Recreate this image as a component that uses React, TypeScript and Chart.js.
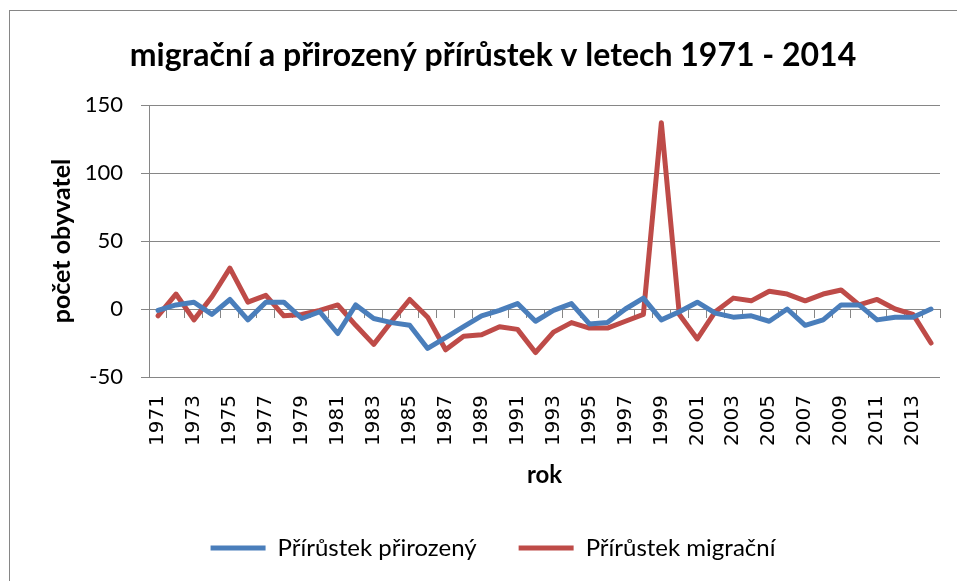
import React, { useEffect, useRef } from "react";
import { Chart, registerables } from "chart.js";

Chart.register(...registerables);

const years: string[] = [
  "1971", "1972", "1973", "1974", "1975", "1976", "1977", "1978", "1979", "1980",
  "1981", "1982", "1983", "1984", "1985", "1986", "1987", "1988", "1989", "1990",
  "1991", "1992", "1993", "1994", "1995", "1996", "1997", "1998", "1999", "2000",
  "2001", "2002", "2003", "2004", "2005", "2006", "2007", "2008", "2009", "2010",
  "2011", "2012", "2013", "2014",
];

const prirozeny: number[] = [
  -1, 3, 5, -4, 7, -8, 5, 5, -7, -2,
  -18, 3, -7, -10, -12, -29, -21, -13, -5, -1,
  4, -9, -1, 4, -11, -10, 0, 8, -8, -2,
  5, -3, -6, -5, -9, 0, -12, -8, 3, 3,
  -8, -6, -6, 0,
];

const migracni: number[] = [
  -5, 11, -8, 9, 30, 5, 10, -5, -4, -1,
  3, -12, -26, -9, 7, -6, -30, -20, -19, -13,
  -15, -32, -17, -10, -14, -14, -9, -4, 137, -4,
  -22, -2, 8, 6, 13, 11, 6, 11, 14, 3,
  7, 0, -4, -25,
];

const seriesNames: string[] = ["Přírůstek přirozený", "Přírůstek migrační"];
const seriesColors: string[] = ["#4A7EBB", "#BE4B48"];
const yTicks: number[] = [-50, 0, 50, 100, 150];

const titleText = "migrační a přirozený přírůstek v letech 1971 - 2014";
const yTitle = "počet obyvatel";
const xTitle = "rok";

const GRID = "#868686";

const framePlugin = {
  id: "frame",
  beforeDraw(chart: any) {
    const ctx = chart.ctx;
    ctx.save();
    ctx.fillStyle = "#ffffff";
    ctx.fillRect(0, 0, chart.width, chart.height);
    ctx.strokeStyle = GRID;
    ctx.lineWidth = 1;
    ctx.strokeRect(9.5, 10.5, 3000, 3000);
    ctx.restore();
  },
};

export default function App() {
  const ref = useRef<HTMLCanvasElement | null>(null);

  useEffect(() => {
    if (!ref.current) return;
    const chart = new Chart(ref.current, {
      type: "line",
      data: {
        labels: years,
        datasets: [
          {
            label: seriesNames[0],
            data: prirozeny,
            borderColor: seriesColors[0],
            backgroundColor: seriesColors[0],
            borderWidth: 5,
            pointRadius: 0,
            tension: 0,
            borderJoinStyle: "round",
            borderCapStyle: "round",
          },
          {
            label: seriesNames[1],
            data: migracni,
            borderColor: seriesColors[1],
            backgroundColor: seriesColors[1],
            borderWidth: 5,
            pointRadius: 0,
            tension: 0,
            borderJoinStyle: "round",
            borderCapStyle: "round",
          },
        ],
      },
      options: {
        animation: false,
        responsive: true,
        maintainAspectRatio: false,
        layout: { padding: { left: 46, right: 17, top: 0, bottom: 11 } },
        plugins: {
          title: {
            display: true,
            text: titleText,
            color: "#000",
            font: { family: "Lato", size: 32, weight: "bold" },
            padding: { top: 36, bottom: 30.6 },
          },
          legend: {
            position: "bottom",
            labels: {
              color: "#000",
              font: { family: "Lato", size: 24 },
              boxWidth: 55,
              boxHeight: 5,
              padding: 42,
              generateLabels: (c: any) =>
                c.data.datasets.map((d: any, i: number) => ({
                  text: d.label,
                  fillStyle: d.borderColor,
                  strokeStyle: d.borderColor,
                  lineWidth: 0,
                  datasetIndex: i,
                  hidden: false,
                })),
            },
          },
          tooltip: { enabled: false },
        },
        scales: {
          x: {
            type: "category",
            offset: true,
            grid: { display: false, drawTicks: false },
            border: { display: false },
            ticks: {
              autoSkip: false,
              minRotation: 90,
              maxRotation: 90,
              padding: 18,
              color: "#000",
              font: { family: "DejaVu Sans", size: 20 },
              callback: (_v: any, i: number) => (i % 2 === 0 ? years[i] : ""),
            },
            title: {
              display: true,
              text: xTitle,
              color: "#000",
              font: { family: "Lato", size: 24, weight: "bold" },
              padding: { top: 0, bottom: 4.6 },
            },
            afterFit: (s: any) => {
              s.height = 117;
              s.paddingLeft = 0;
              s.paddingRight = 0;
            },
          },
          x2: {
            type: "category",
            axis: "x",
            position: { y: 0 },
            offset: true,
            grid: {
              display: true,
              drawOnChartArea: false,
              drawTicks: true,
              tickLength: 8,
              offset: true,
              color: GRID,
            },
            border: { display: true, color: GRID, width: 1 },
            ticks: { display: false },
          },
          y: {
            min: -50,
            max: 150,
            afterBuildTicks: (s: any) => {
              s.ticks = yTicks.map((v) => ({ value: v }));
            },
            grid: { color: GRID, lineWidth: 1, drawTicks: true, tickLength: 8 },
            border: { display: true, color: GRID, width: 1 },
            ticks: {
              padding: 18,
              color: "#000",
              font: { family: "Lato", size: 22 },
            },
            title: {
              display: true,
              text: yTitle,
              color: "#000",
              font: { family: "Lato", size: 25, weight: "bold" },
              padding: { top: 1, bottom: 0 },
            },
            afterFit: (s: any) => {
              s.width = 103;
            },
          },
        },
      } as any,
      plugins: [framePlugin],
    });
    return () => chart.destroy();
  }, []);

  return (
    <div style={{ position: "fixed", left: 0, top: 0, width: 957, height: 581, background: "#fff" }}>
      <canvas ref={ref} />
    </div>
  );
}
